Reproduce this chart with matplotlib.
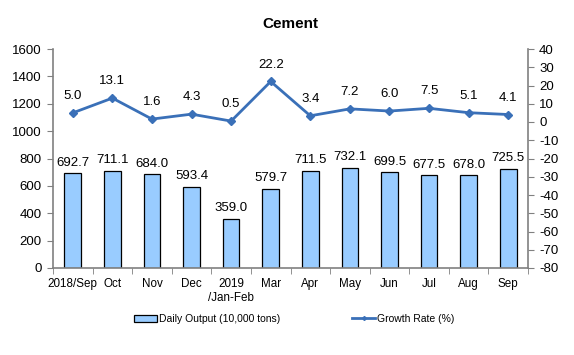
import matplotlib
matplotlib.use("Agg")
import matplotlib.pyplot as plt
from matplotlib.lines import Line2D
from matplotlib.patches import Patch
import numpy as np

categories = ["2018/Sep", "Oct", "Nov", "Dec", "2019\n/Jan-Feb", "Mar", "Apr", "May", "Jun", "Jul", "Aug", "Sep"]
output = [692.7, 711.1, 684.0, 593.4, 359.0, 579.7, 711.5, 732.1, 699.5, 677.5, 678.0, 725.5]
growth = [5.0, 13.1, 1.6, 4.3, 0.5, 22.2, 3.4, 7.2, 6.0, 7.5, 5.1, 4.1]

plt.rcParams['font.family'] = ['Liberation Sans', 'DejaVu Sans']
plt.rcParams['axes.unicode_minus'] = False

fig = plt.figure(figsize=(5.74, 3.55), dpi=100)
ax = fig.add_axes([53/574, 1 - 268/355, (528-53)/574, (268-49)/355])
ax2 = ax.twinx()

x = np.arange(len(categories))
bar_color = "#99CCFF"
line_color = "#3A70B8"
axis_gray = "#808080"

ax.bar(x, output, width=0.42, color=bar_color, edgecolor="black", linewidth=0.9, zorder=2)
for xi, v in zip(x, output):
    ax.text(xi, v + 32, f"{v:.1f}", ha="center", va="bottom", fontsize=9.5)

ax.set_xlim(-0.5, len(categories) - 0.5)
ax.set_ylim(0, 1600)
ax.set_yticks(np.arange(0, 1601, 200))
ax.tick_params(axis="y", labelsize=9.5, length=4, color=axis_gray, pad=4)

ax.set_xticks(x)
ax.set_xticklabels(categories, fontsize=8.4, linespacing=1.3)
ax.tick_params(axis="x", length=0, pad=7)
ax.set_xticks(np.arange(-0.5, len(categories), 1), minor=True)
ax.tick_params(axis="x", which="minor", length=4, color=axis_gray)

ax2.plot(x, growth, color=line_color, linewidth=2, marker="D", markersize=4.5, zorder=3)
for xi, v in zip(x, growth):
    ax2.text(xi, v + 6, f"{v:.1f}", ha="center", va="bottom", fontsize=9.5)
ax2.set_ylim(-80, 40)
ax2.set_yticks(np.arange(-80, 41, 10))
ax2.tick_params(axis="y", labelsize=9.5, length=4, color=axis_gray, pad=4)

for a in (ax, ax2):
    a.spines["top"].set_visible(False)
    for s in ("left", "right", "bottom"):
        a.spines[s].set_color(axis_gray)
        a.spines[s].set_linewidth(1.2)
ax.spines["right"].set_visible(False)
ax2.spines["left"].set_visible(False)
ax2.spines["bottom"].set_visible(False)

fig.text(290/574, 1 - 24/355, "Cement", ha="center", va="center", fontsize=11, fontweight="bold")

h1 = Patch(facecolor=bar_color, edgecolor="black", linewidth=0.9)
h2 = Line2D([0], [0], color=line_color, linewidth=2, marker="D", markersize=2)
fig.legend([h1], ["Daily Output (10,000 tons)"], loc="center left",
           bbox_to_anchor=(125/574, 1 - 319/355), frameon=False, fontsize=7.5,
           handlelength=2.2, handleheight=0.6, handletextpad=0.2)
fig.legend([h2], ["Growth Rate (%)"], loc="center left",
           bbox_to_anchor=(343/574, 1 - 319/355), frameon=False, fontsize=7.5,
           handlelength=2.2, handletextpad=0.2)

fig.savefig("out.png", dpi=100)
